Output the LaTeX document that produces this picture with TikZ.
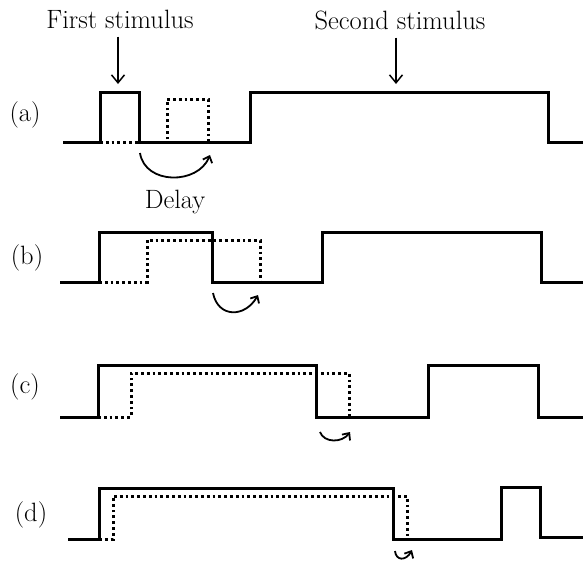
\documentclass[tikz,border=0pt]{standalone}
\usetikzlibrary{arrows.meta}
\begin{document}
\begin{tikzpicture}[x=1pt,y=-1pt,
  sig/.style={line width=3pt, line join=miter},
  dly/.style={line width=3pt, dash pattern=on 2.8pt off 3pt},
  lab/.style={font=\fontsize{26.5}{31}\selectfont, inner sep=0pt},
  stim/.style={line width=1.5pt, -{Straight Barb[length=8pt,width=13pt]}},
  curv/.style={line width=1.8pt, -{Straight Barb[length=5.5pt,width=10pt]}}]
\useasboundingbox (0,0) rectangle (585,566);

% labels
\node[lab] (la) at (25,115) {(a)};
\node[lab] (lb) at (27,258) {(b)};
\node[lab] (lc) at (25,387) {(c)};
\node[lab] (ld) at (31,515) {(d)};
\node[lab] (s1) at (120,19) {First stimulus};
\node[lab] (s2) at (400,20) {Second stimulus};
\node[lab] (dl) at (175,202) {Delay};

% stimulus arrows
\coordinate (t1) at (118,84);
\coordinate (t2) at (396,84);
\draw[stim] (s1.south -| t1) ++(0,8) -- (t1);
\draw[stim] (s2.south -| t2) ++(0,8) -- (t2);

% (a)
\draw[sig] (63,142) -- (100,142) -- (100,92) -- (139,92) -- (139,142) -- (250,142) -- (250,92) -- (548,92) -- (548,142) -- (583,142);
\draw[dly] (100,142) -- (167,142) -- (167,99) -- (208,99) -- (208,142);
\coordinate (a1) at (140,153); \coordinate (a2) at (210,155);
\draw[curv] (a1) .. controls (145,185) and (198,185) .. (a2);

% (b)
\draw[sig] (60,282) -- (99,282) -- (99,232) -- (212,232) -- (212,282) -- (322,282) -- (322,232) -- (541,232) -- (541,282) -- (583,282);
\draw[dly] (99,282) -- (147,282) -- (147,240) -- (260,240) -- (260,282);
\coordinate (b1) at (213,293); \coordinate (b2) at (258,295);
\draw[curv] (b1) .. controls (218,318) and (245,318) .. (b2);

% (c)
\draw[sig] (60,417) -- (98,417) -- (98,365) -- (316,365) -- (316,417) -- (428,417) -- (428,365) -- (538,365) -- (538,417) -- (583,417);
\draw[dly] (98,417) -- (131,417) -- (131,373) -- (349,373) -- (349,417);
\coordinate (c1) at (320,432); \coordinate (c2) at (350,432);
\draw[curv] (c1) .. controls (324,443) and (342,443) .. (c2);

% (d)
\draw[sig] (68,539) -- (99,539) -- (99,488) -- (393,488) -- (393,539) -- (501,539) -- (501,487) -- (540,487) -- (540,537) -- (583,537);
\draw[dly] (99,539) -- (113,539) -- (113,496) -- (407,496) -- (407,539);
\coordinate (d1) at (395,551); \coordinate (d2) at (412,550);
\draw[curv] (d1) .. controls (396,561) and (406,561) .. (d2);
\end{tikzpicture}
\end{document}
